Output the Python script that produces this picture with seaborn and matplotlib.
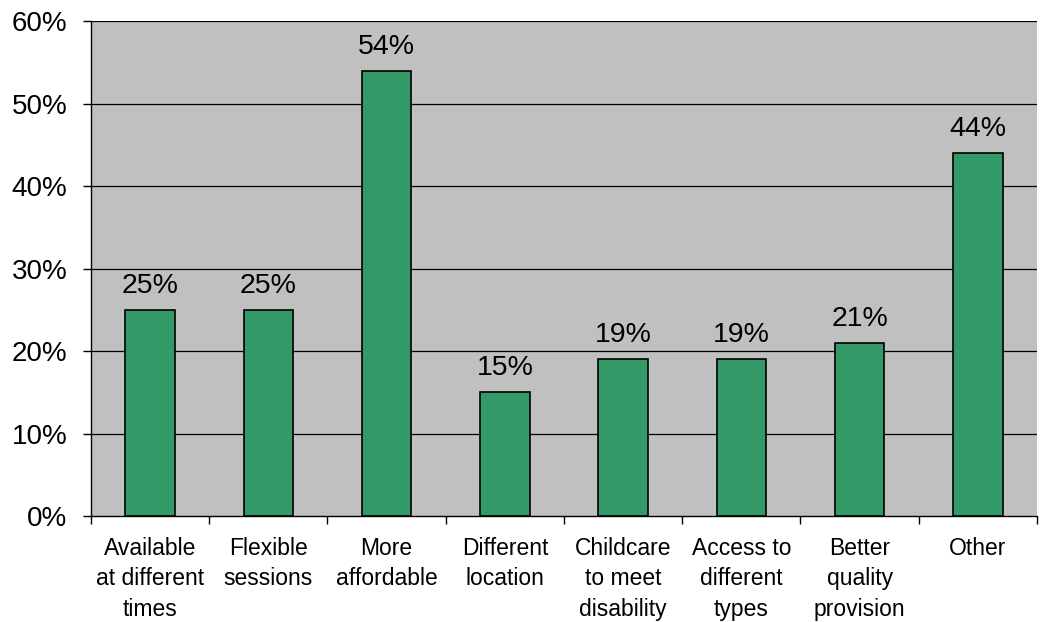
import matplotlib
matplotlib.use("Agg")
import matplotlib.pyplot as plt
import seaborn as sns
import pandas as pd
from matplotlib.ticker import PercentFormatter, FixedLocator

categories = [
    "Available\nat different\ntimes",
    "Flexible\nsessions",
    "More\naffordable",
    "Different\nlocation",
    "Childcare\nto meet\ndisability",
    "Access to\ndifferent\ntypes",
    "Better\nquality\nprovision",
    "Other",
]
values = [25, 25, 54, 15, 19, 19, 21, 44]
y_ticks = [0, 10, 20, 30, 40, 50, 60]

sns.set_theme(style="white")
plt.rcParams["font.family"] = ["Liberation Sans", "DejaVu Sans"]

df = pd.DataFrame({"category": categories, "value": values})

fig = plt.figure(figsize=(10.53, 6.22), dpi=100)
ax = fig.add_axes([0.0864, 0.1704, 0.8984, 0.7958])
ax.set_facecolor("#C0C0C0")

sns.barplot(data=df, x="category", y="value", color="#339966", saturation=1,
            width=0.42, edgecolor="black", linewidth=1.2, ax=ax, zorder=3)

ax.set_ylim(0, 60)
ax.set_xlim(-0.5, len(categories) - 0.5)
ax.set_yticks(y_ticks)
ax.yaxis.set_major_formatter(PercentFormatter(decimals=0))
for y in y_ticks[1:]:
    ax.axhline(y, color="black", linewidth=0.9, zorder=1)

for i, v in enumerate(values):
    ax.text(i, v + 2.05, f"{v}%", ha="center", va="baseline", fontsize=20.5, color="black", zorder=4)

ax.set_xlabel("")
ax.set_ylabel("")
ax.tick_params(axis="y", labelsize=20, length=6, width=1, direction="out", left=True, pad=11,
               color="black", labelcolor="black")
ax.tick_params(axis="x", which="major", length=0, labelsize=16.5, pad=15, labelcolor="black")
ax.xaxis.set_minor_locator(FixedLocator([i - 0.5 for i in range(len(categories) + 1)]))
ax.tick_params(axis="x", which="minor", length=6, width=1, direction="out", bottom=True, color="black")
for lbl in ax.get_xticklabels():
    lbl.set_linespacing(1.42)

for side in ["top", "right"]:
    ax.spines[side].set_visible(False)
for side in ["left", "bottom"]:
    ax.spines[side].set_color("black")
    ax.spines[side].set_linewidth(1)

fig.savefig("out.png", dpi=100, facecolor="white")
